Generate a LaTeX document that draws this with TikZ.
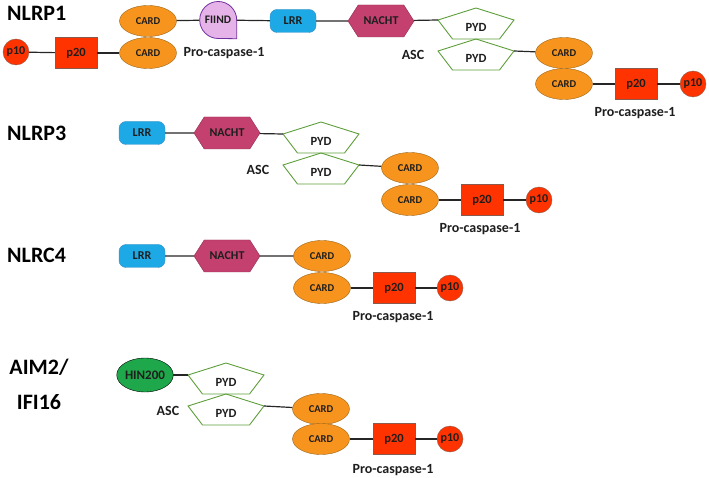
\documentclass[tikz,border=0pt]{standalone}
\usepackage{fontspec}
\setmainfont{Carlito}
\usetikzlibrary{positioning,shapes,backgrounds}

\definecolor{cardorange}{HTML}{F7941E}
\definecolor{cardborder}{HTML}{9A6418}
\definecolor{casred}{HTML}{FF3300}
\definecolor{casborder}{HTML}{8A5A4C}
\definecolor{lrrblue}{HTML}{1CA9E6}
\definecolor{lrrborder}{HTML}{3D8CC4}
\definecolor{nachtred}{HTML}{C4416F}
\definecolor{nachtborder}{HTML}{8E2A50}
\definecolor{fiindpink}{HTML}{E6B3E8}
\definecolor{fiindborder}{HTML}{7030A0}
\definecolor{pydgreen}{HTML}{5E9E3A}
\definecolor{hingreen}{HTML}{1EA84B}
\definecolor{darktext}{HTML}{1E1E1E}

\tikzstyle{card}=[ellipse, draw=cardborder, fill=cardorange, minimum width=57pt, minimum height=31pt,
        inner sep=0pt, text=darktext, font=\fontsize{10.5}{11}\selectfont\bfseries]
\tikzstyle{ptwenty}=[rectangle, draw=casborder, fill=casred, minimum width=42pt, minimum height=31pt,
        inner sep=0pt, text=darktext, font=\fontsize{12.5}{13}\selectfont\bfseries]
\tikzstyle{pten}=[circle, draw=casborder, fill=casred, minimum size=26pt,
        inner sep=0pt, text=darktext, font=\fontsize{12}{12}\selectfont\bfseries]
\tikzstyle{lrr}=[rectangle, rounded corners=7pt, draw=lrrborder, fill=lrrblue, minimum width=46pt,
        minimum height=23pt, inner sep=0pt, text=darktext, font=\fontsize{12}{12}\selectfont\bfseries]
\tikzstyle{nacht}=[signal, signal to=east and west, signal pointer angle=115, draw=nachtborder,
        fill=nachtred, minimum width=66pt, minimum height=32pt, inner sep=0pt, text=darktext,
        font=\fontsize{12}{12}\selectfont\bfseries]
\tikzstyle{pyd}=[rectangle, minimum width=76pt, minimum height=18pt, inner sep=0pt, text=darktext,
        font=\fontsize{12.5}{13}\selectfont\bfseries]
\tikzstyle{pydline}=[draw=pydgreen, line width=0.9pt]
\tikzstyle{fiind}=[rectangle, minimum size=37pt, inner sep=0pt, text=darktext,
        font=\fontsize{11.5}{12}\selectfont\bfseries]
\tikzstyle{fiindline}=[draw=fiindborder, fill=fiindpink, line width=0.8pt]
\tikzstyle{hin}=[ellipse, draw=black, fill=hingreen, minimum width=47pt, minimum height=34pt,
        inner sep=0pt, text=darktext, font=\fontsize{13}{13}\selectfont\bfseries]
\tikzstyle{title}=[anchor=west, inner sep=0pt, align=center, text=black,
        font=\fontsize{22}{35}\selectfont\bfseries]
\tikzstyle{tagtext}=[inner sep=0pt, text=darktext, font=\fontsize{14}{14}\selectfont\bfseries]
\tikzstyle{link}=[-, line width=1.2pt, draw=black!85]

% pentagon round a PYD node, with its two side corners as coordinates
\newcommand{\pydshape}[1]{%
    \draw[pydline] ([yshift=19pt]#1.center) -- ([xshift=38pt,yshift=7pt]#1.center)
        -- ([xshift=23.5pt,yshift=-12pt]#1.center) -- ([xshift=-23.5pt,yshift=-12pt]#1.center)
        -- ([xshift=-38pt,yshift=7pt]#1.center) -- cycle;
    \coordinate (#1-w) at ([xshift=-38pt,yshift=7pt]#1.center);
    \coordinate (#1-e) at ([xshift=38pt,yshift=7pt]#1.center);}

\begin{document}
\begin{tikzpicture}[x=1pt, y=1pt]
    \useasboundingbox (0,0) rectangle (709,-478);

    % NLRP1
    \node (NLRPone) [title] at (7,-13) {NLRP1};
    \node (CardOneA) [card] at (148,-21) {CARD};
    \node (CardOneB) [card] at (148,-53) {CARD};
    \node (PtwentyOne) [ptwenty] at (76,-53) {p20};
    \node (PtenOne) [pten] at (16,-52) {p10};
    \node (ProOne) [tagtext] at (224,-53) {Pro-caspase-1};
    \node (Fiind) [fiind] at (218,-20) {FIIND};
    \node (LrrOne) [lrr] at (293,-21) {LRR};
    \node (NachtOne) [nacht] at (381,-21) {NACHT};
    \node (PydOneA) [pyd] at (476,-27) {PYD};
    \node (PydOneB) [pyd] at (476,-58) {PYD};
    \node (AscOne) [tagtext] at (413,-55) {ASC};
    \node (CardOneC) [card] at (564,-53) {CARD};
    \node (CardOneD) [card] at (564,-84) {CARD};
    \node (PtwentyOneR) [ptwenty] at (636,-84) {p20};
    \node (PtenOneR) [pten] at (693,-84) {p10};
    \node (ProOneR) [tagtext] at (635,-113) {Pro-caspase-1};

    \begin{scope}[on background layer]
        \draw[fiindline] (Fiind.east) arc[start angle=0, end angle=270, radius=18.5pt]
            -- (Fiind.south east) -- cycle;
    \end{scope}
    \pydshape{PydOneA}
    \pydshape{PydOneB}

    \draw[link] (PtenOne) -- (PtwentyOne);
    \draw[link] (PtwentyOne) -- (CardOneB);
    \draw[link] (CardOneA) -- (Fiind);
    \draw[link] (Fiind) -- (LrrOne);
    \draw[link] (LrrOne) -- (NachtOne);
    \draw[link] (NachtOne) -- (PydOneA-w);
    \draw[link] (PydOneB-e) -- (CardOneC);
    \draw[link] (CardOneD) -- (PtwentyOneR);
    \draw[link] (PtwentyOneR) -- (PtenOneR);

    % NLRP3
    \node (NLRPthree) [title] at (7,-133) {NLRP3};
    \node (LrrThree) [lrr] at (142,-133) {LRR};
    \node (NachtThree) [nacht] at (227,-133) {NACHT};
    \node (PydThreeA) [pyd] at (321,-141) {PYD};
    \node (PydThreeB) [pyd] at (321,-172) {PYD};
    \node (AscThree) [tagtext] at (258,-170) {ASC};
    \node (CardThreeA) [card] at (410,-168) {CARD};
    \node (CardThreeB) [card] at (410,-200) {CARD};
    \node (PtwentyThree) [ptwenty] at (482,-200) {p20};
    \node (PtenThree) [pten] at (539,-200) {p10};
    \node (ProThree) [tagtext] at (480,-229) {Pro-caspase-1};
    \pydshape{PydThreeA}
    \pydshape{PydThreeB}

    \draw[link] (LrrThree) -- (NachtThree);
    \draw[link] (NachtThree) -- (PydThreeA-w);
    \draw[link] (PydThreeB-e) -- (CardThreeA);
    \draw[link] (CardThreeB) -- (PtwentyThree);
    \draw[link] (PtwentyThree) -- (PtenThree);

    % NLRC4
    \node (NLRCfour) [title] at (7,-255) {NLRC4};
    \node (LrrFour) [lrr] at (142,-256) {LRR};
    \node (NachtFour) [nacht] at (227,-256) {NACHT};
    \node (CardFourA) [card] at (322,-256) {CARD};
    \node (CardFourB) [card] at (322,-288) {CARD};
    \node (PtwentyFour) [ptwenty] at (394,-288) {p20};
    \node (PtenFour) [pten] at (450,-288) {p10};
    \node (ProFour) [tagtext] at (393,-317) {Pro-caspase-1};

    \draw[link] (LrrFour) -- (NachtFour);
    \draw[link] (NachtFour) -- (CardFourA);
    \draw[link] (CardFourB) -- (PtwentyFour);
    \draw[link] (PtwentyFour) -- (PtenFour);

    % AIM2/IFI16
    \node (AimTwo) [title, anchor=center] at (39,-384) {AIM2/\\IFI16};
    \node (Hin) [hin] at (145,-375) {HIN200};
    \node (PydFiveA) [pyd] at (226,-382) {PYD};
    \node (PydFiveB) [pyd] at (226,-413) {PYD};
    \node (AscFive) [tagtext] at (168,-411) {ASC};
    \node (CardFiveA) [card] at (321,-409) {CARD};
    \node (CardFiveB) [card] at (321,-439) {CARD};
    \node (PtwentyFive) [ptwenty] at (394,-439) {p20};
    \node (PtenFive) [pten] at (450,-439) {p10};
    \node (ProFive) [tagtext] at (393,-470) {Pro-caspase-1};
    \pydshape{PydFiveA}
    \pydshape{PydFiveB}

    \draw[link] (Hin) -- (PydFiveA-w);
    \draw[link] (PydFiveB-e) -- (CardFiveA);
    \draw[link] (CardFiveB) -- (PtwentyFive);
    \draw[link] (PtwentyFive) -- (PtenFive);
\end{tikzpicture}
\end{document}
